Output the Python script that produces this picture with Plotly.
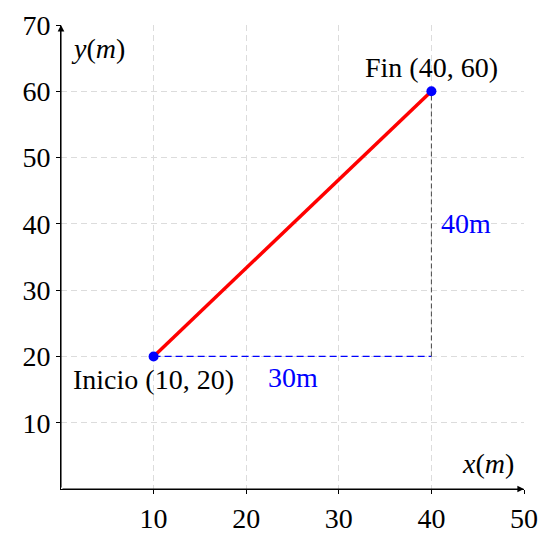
import plotly.graph_objects as go

# datos del desplazamiento
inicio = [10, 20]
fin = [40, 60]
dx_label = "30m"
dy_label = "40m"
x_ticks = [10, 20, 30, 40, 50]
y_ticks = [10, 20, 30, 40, 50, 60, 70]

serif = "Liberation Serif"
fs = 28

fig = go.Figure()

# catetos punteados
fig.add_trace(go.Scatter(x=[inicio[0], fin[0]], y=[inicio[1], inicio[1]], mode="lines",
                         line=dict(color="blue", width=1.2, dash="7px,4px"), hoverinfo="skip"))
fig.add_trace(go.Scatter(x=[fin[0], fin[0]], y=[inicio[1], fin[1]], mode="lines",
                         line=dict(color="#333", width=0.9, dash="5px,3px"), hoverinfo="skip"))

# desplazamiento
fig.add_trace(go.Scatter(x=[inicio[0], fin[0]], y=[inicio[1], fin[1]], mode="lines",
                         line=dict(color="red", width=3.5)))
fig.add_trace(go.Scatter(x=[inicio[0], fin[0]], y=[inicio[1], fin[1]], mode="markers",
                         marker=dict(color="blue", size=10), cliponaxis=False))

# flechas de los ejes
fig.add_annotation(x=x_ticks[-1], y=0, ax=0, ay=0, xref="x", yref="y", axref="x", ayref="y",
                   text="", showarrow=True, arrowhead=2, arrowsize=1.2, arrowwidth=1.1, arrowcolor="black")
fig.add_annotation(x=0, y=y_ticks[-1], ax=0, ay=0, xref="x", yref="y", axref="x", ayref="y",
                   text="", showarrow=True, arrowhead=2, arrowsize=1.2, arrowwidth=1.1, arrowcolor="black")

# etiquetas
fig.add_annotation(x=fin[0], y=fin[1], text="Fin (%d, %d)" % (fin[0], fin[1]), showarrow=False,
                   yanchor="bottom", yshift=6, font=dict(size=fs, color="black"))
fig.add_annotation(x=inicio[0], y=inicio[1], text="Inicio (%d, %d)" % (inicio[0], inicio[1]), showarrow=False,
                   yanchor="top", yshift=-6, font=dict(size=fs, color="black"))
fig.add_annotation(x=(inicio[0] + fin[0]) / 2, y=inicio[1], text=dx_label, showarrow=False,
                   yanchor="top", yshift=-4, font=dict(size=fs, color="blue"))
fig.add_annotation(x=fin[0], y=(inicio[1] + fin[1]) / 2, text=dy_label, showarrow=False,
                   xanchor="left", xshift=8, font=dict(size=fs, color="blue"))
fig.add_annotation(x=0, y=y_ticks[-1], text="<i>y</i>(<i>m</i>)", showarrow=False,
                   xanchor="left", yanchor="top", xshift=8, yshift=-6, font=dict(size=fs, color="black"))
fig.add_annotation(x=x_ticks[-1], y=0, text="<i>x</i>(<i>m</i>)", showarrow=False,
                   xanchor="right", yanchor="bottom", xshift=-8, yshift=8, font=dict(size=fs, color="black"))

fig.update_xaxes(range=[0, 50], tickvals=x_ticks, showgrid=True, gridcolor="#dcdcdc", griddash="6px,4px",
                 zeroline=False, showline=True, linecolor="black", linewidth=1, automargin=False,
                 ticks="outside", ticklen=4, tickcolor="black", tickfont=dict(size=fs, color="black"))
fig.update_yaxes(range=[0, 70], tickvals=y_ticks, showgrid=True, gridcolor="#dcdcdc", griddash="6px,4px",
                 zeroline=False, showline=True, linecolor="black", linewidth=1, automargin=False,
                 ticks="outside", ticklen=4, tickcolor="black", tickfont=dict(size=fs, color="black"))

# la página tiene 8px de margen en el body
fig.update_layout(width=543, height=539, showlegend=False,
                  plot_bgcolor="white", paper_bgcolor="white",
                  font=dict(family=serif, size=fs, color="black"),
                  margin=dict(l=53, r=27, t=17, b=58))

fig.write_html("out.html")
